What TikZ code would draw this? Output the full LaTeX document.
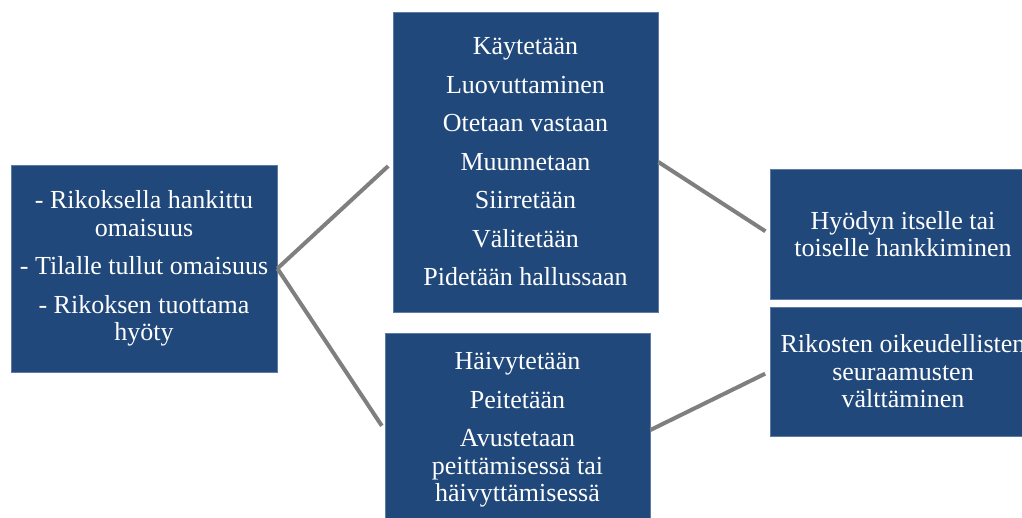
\documentclass[tikz,border=0pt]{standalone}
\usepackage{fontspec}
\setmainfont{Liberation Serif}
\definecolor{boxblue}{HTML}{21487A}
\definecolor{boxedge}{HTML}{5F7BA3}
\definecolor{conngray}{HTML}{7F7F7F}
\tikzset{
  stepbox/.style={rectangle, fill=boxblue, draw=boxedge, line width=0.8pt,
    text=white, align=center, inner sep=0pt,
    font=\fontsize{26}{27.5}\selectfont},
  conn/.style={draw=conngray, line width=4pt},
}
\begin{document}
\begin{tikzpicture}[x=1pt,y=-1pt]
\useasboundingbox (0,0) rectangle (1022,518);
\clip (0,0) rectangle (1022,518);
\fill[white] (0,0) rectangle (1022,518);
\node[stepbox, minimum width=266pt, minimum height=207pt] (left) at (144,268.5)
  {- Rikoksella hankittu\\omaisuus\\[11pt]- Tilalle tullut omaisuus\\[11pt]- Rikoksen tuottama\\hyöty};
\node[stepbox, minimum width=265pt, minimum height=300pt] (top) at (525.5,162)
  {Käytetään\\[11pt]Luovuttaminen\\[11pt]Otetaan vastaan\\[11pt]Muunnetaan\\[11pt]Siirretään\\[11pt]Välitetään\\[11pt]Pidetään hallussaan};
\node[stepbox, minimum width=265pt, minimum height=194pt] (bottom) at (517.5,430)
  {Häivytetään\\[11pt]Peitetään\\[11pt]Avustetaan\\peittämisessä tai\\häivyttämisessä};
\node[stepbox, minimum width=266pt, minimum height=130pt] (rtop) at (903,234)
  {Hyödyn itselle tai\\toiselle hankkiminen};
\node[stepbox, minimum width=266pt, minimum height=129pt] (rbot) at (903,371.5)
  {Rikosten oikeudellisten\\seuraamusten\\välttäminen};
\draw[conn, shorten >=6pt] (left.east) -- (top.west);
\draw[conn, shorten >=5pt] (left.east) -- (bottom.west);
\draw[conn, shorten >=5pt] (top.east) -- (rtop.west);
\draw[conn, shorten >=5pt] (bottom.east) -- (rbot.west);
\end{tikzpicture}
\end{document}
